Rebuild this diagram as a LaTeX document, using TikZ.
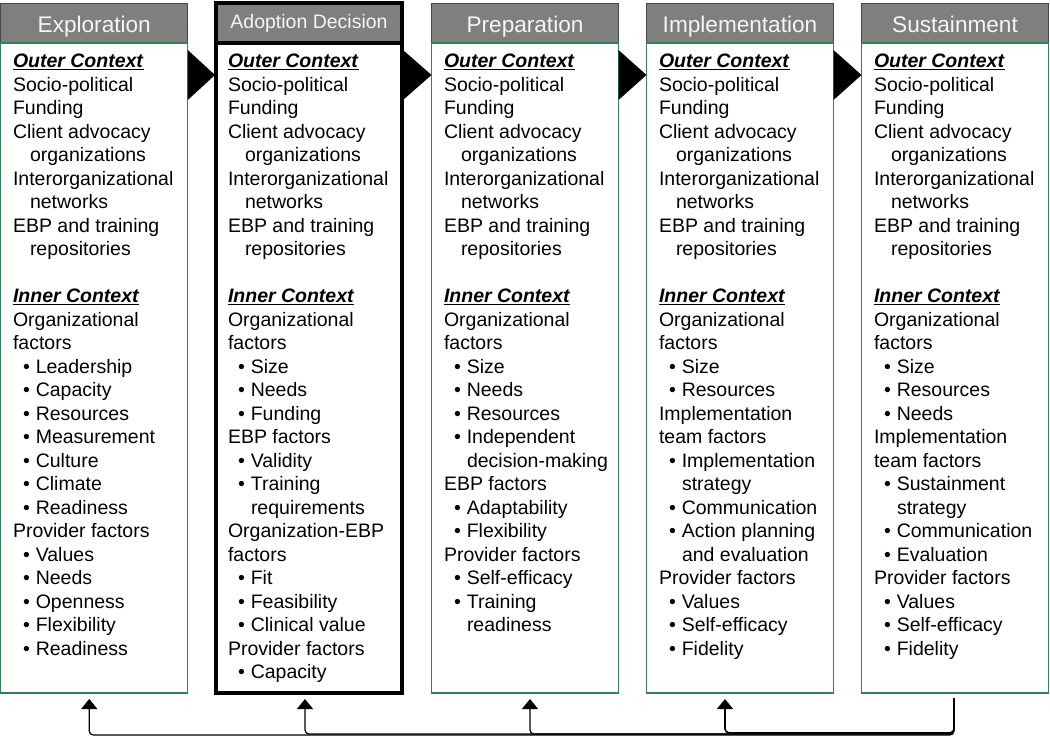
\documentclass[tikz,border=0pt]{standalone}
\usepackage{fontspec}
\setmainfont{Liberation Sans}
\usetikzlibrary{positioning}
\usetikzlibrary{calc}
\usetikzlibrary{arrows.meta}
\definecolor{boxgreen}{RGB}{52,130,84}
\definecolor{headgray}{RGB}{127,127,127}
\definecolor{headline}{RGB}{70,70,70}
\definecolor{headtext}{RGB}{245,245,245}
\tikzset{
	phasehead/.style={draw=headline,fill=headgray,text=headtext,line width=1pt,minimum width=187pt,minimum height=40pt,inner sep=0pt,outer sep=0pt,text height=18pt,text depth=0pt,font=\fontsize{22.6}{26}\selectfont},
	phasebox/.style={draw=boxgreen,line width=1.3pt,minimum width=187pt,minimum height=650pt,inner sep=0pt,outer sep=0pt},
	phasetext/.style={anchor=north west,align=left,inner sep=0pt,outer sep=0pt,font=\fontsize{19.5}{23.5}\selectfont},
	decision/.style={draw=black,line width=3.5pt},
	feedback/.style={line width=1.2pt,rounded corners=4pt,shorten >=6pt,-{Triangle[width=16pt,length=10pt]}},
}
\newcommand{\ctxhead}[1]{\underline{\textbf{\textit{#1}}}}
\newcommand{\bitem}{\hspace*{10pt}\textbullet\hspace{6pt}}
\newcommand{\bcont}{\hspace*{23pt}}
\newcommand{\ocont}{\hspace*{17pt}}
\newcommand{\outerlist}{\ctxhead{Outer Context}\\ Socio-political\\ Funding\\ Client advocacy\\ \ocont organizations\\ Interorganizational\\ \ocont networks\\ EBP and training\\ \ocont repositories\\[23.5pt] \ctxhead{Inner Context}}

\begin{document}
\begin{tikzpicture}[x=1pt,y=-1pt]
	\useasboundingbox (0,0) rectangle (1050,736);
	
	% phase headers.....................
	\node [phasehead,anchor=north west] (expl) at (0.75,3) {Exploration};
	\node [phasehead,anchor=north west,minimum width=186pt,text height=14pt,text depth=3pt,font=\fontsize{19.5}{23}\selectfont] (adopt) at (216,3) {Adoption Decision};
	\node [phasehead,anchor=north west] (prep) at (431.5,3) {Preparation};
	\node [phasehead,anchor=north west] (impl) at (646.5,3) {Implementation};
	\node [phasehead,anchor=north west] (sust) at (861.5,3) {Sustainment};
	
	% phase boxes.....................
	\node [phasebox,below=0pt of expl] (explbox) {};
	\node [phasebox,minimum width=186pt,below=0pt of adopt] (adoptbox) {};
	\node [phasebox,below=0pt of prep] (prepbox) {};
	\node [phasebox,below=0pt of impl] (implbox) {};
	\node [phasebox,below=0pt of sust] (sustbox) {};
	
	% adoption decision frame.............
	\draw [decision] (adopt.north west) rectangle (adoptbox.south east);
	\draw [decision] (adopt.south west) -- (adopt.south east);
	
	% arrows between phases...............
	\fill ([yshift=-7pt]explbox.north east) -- ([yshift=-57pt]explbox.north east) -- ([yshift=-32pt,xshift=-1pt]adoptbox.north west) -- cycle;
	\fill ([yshift=-7pt,xshift=1pt]adoptbox.north east) -- ([yshift=-57pt,xshift=1pt]adoptbox.north east) -- ([yshift=-32pt]prepbox.north west) -- cycle;
	\fill ([yshift=-7pt]prepbox.north east) -- ([yshift=-57pt]prepbox.north east) -- ([yshift=-32pt]implbox.north west) -- cycle;
	\fill ([yshift=-7pt]implbox.north east) -- ([yshift=-57pt]implbox.north east) -- ([yshift=-32pt]sustbox.north west) -- cycle;
	
	% exploration factors.................
	\node [phasetext] (expltext) at (13,54) {\outerlist\\ Organizational\\ factors\\ \bitem Leadership\\ \bitem Capacity\\ \bitem Resources\\ \bitem Measurement\\ \bitem Culture\\ \bitem Climate\\ \bitem Readiness\\ Provider factors\\ \bitem Values\\ \bitem Needs\\ \bitem Openness\\ \bitem Flexibility\\ \bitem Readiness};
	
	% adoption decision factors...........
	\node [phasetext] (adopttext) at (228,54) {\outerlist\\ Organizational\\ factors\\ \bitem Size\\ \bitem Needs\\ \bitem Funding\\ EBP factors\\ \bitem Validity\\ \bitem Training\\ \bcont requirements\\ Organization-EBP\\ factors\\ \bitem Fit\\ \bitem Feasibility\\ \bitem Clinical value\\ Provider factors\\ \bitem Capacity};
	
	% preparation factors.................
	\node [phasetext] (preptext) at (444,54) {\outerlist\\ Organizational\\ factors\\ \bitem Size\\ \bitem Needs\\ \bitem Resources\\ \bitem Independent\\ \bcont decision-making\\ EBP factors\\ \bitem Adaptability\\ \bitem Flexibility\\ Provider factors\\ \bitem Self-efficacy\\ \bitem Training\\ \bcont readiness};
	
	% implementation factors..............
	\node [phasetext] (impltext) at (659,54) {\outerlist\\ Organizational\\ factors\\ \bitem Size\\ \bitem Resources\\ Implementation\\ team factors\\ \bitem Implementation\\ \bcont strategy\\ \bitem Communication\\ \bitem Action planning\\ \bcont and evaluation\\ Provider factors\\ \bitem Values\\ \bitem Self-efficacy\\ \bitem Fidelity};
	
	% sustainment factors.................
	\node [phasetext] (susttext) at (874,54) {\outerlist\\ Organizational\\ factors\\ \bitem Size\\ \bitem Resources\\ \bitem Needs\\ Implementation\\ team factors\\ \bitem Sustainment\\ \bcont strategy\\ \bitem Communication\\ \bitem Evaluation\\ Provider factors\\ \bitem Values\\ \bitem Self-efficacy\\ \bitem Fidelity};
	
	% feedback arrows.....................
	\coordinate (fbout) at ([xshift=-1pt,yshift=-5pt]sustbox.south);
	\draw [feedback] (fbout) -- ++(0,37) -| ([xshift=-5pt]explbox.south);
	\draw [feedback] (fbout) -- ++(0,36) -| ([xshift=-4pt]adoptbox.south);
	\draw [feedback] (fbout) -- ++(0,36) -| ([xshift=5pt]prepbox.south);
	\draw [feedback,line width=1.6pt] (fbout) -- ++(0,34.8) -| ([xshift=-15pt]implbox.south);
\end{tikzpicture}
\end{document}
